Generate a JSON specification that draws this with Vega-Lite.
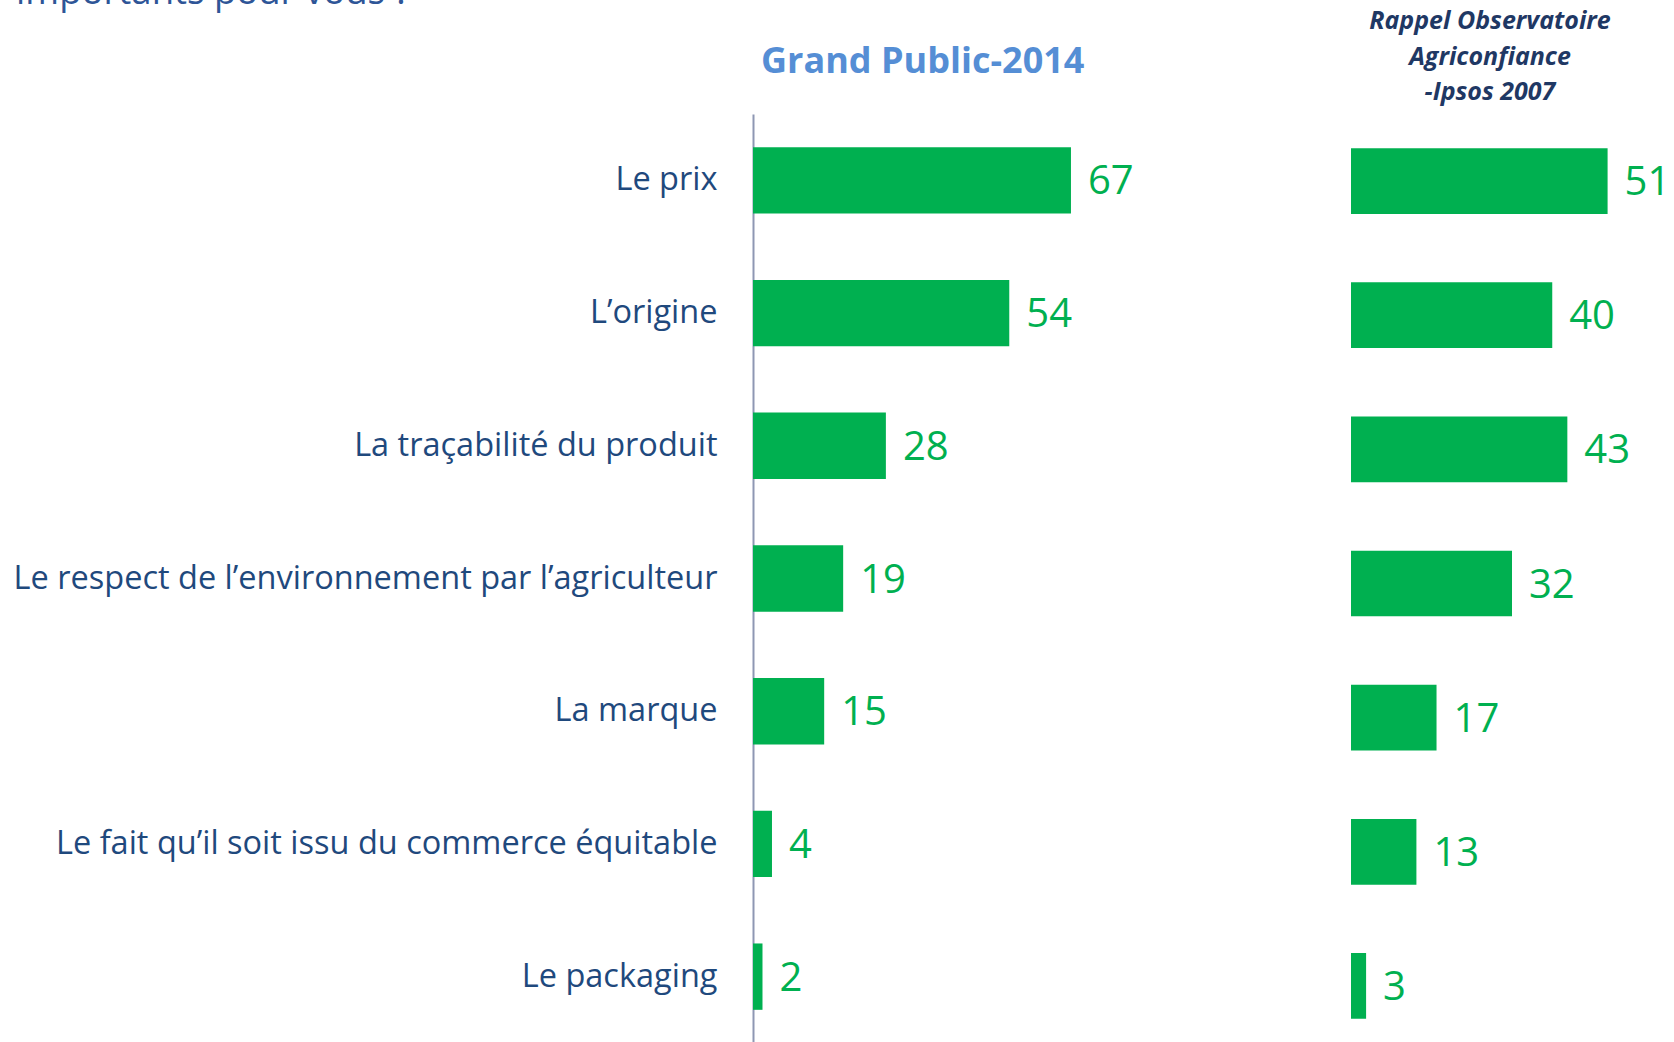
{
  "$schema": "https://vega.github.io/schema/vega-lite/v6.json",
  "background": "white",
  "padding": {"left": 13, "top": -26, "right": 0, "bottom": 0},
  "title": {"text": "importants pour vous ?", "anchor": "start", "frame": "bounds", "dx": 3, "fontSize": 36.5, "font": "Open Sans", "fontWeight": "normal", "color": "#2E5597", "baseline": "bottom", "offset": -39},
  "config": {"view": {"stroke": null}, "font": "Open Sans"},
  "data": {"values": [
    {"critere": "Le prix", "v2014": 67, "v2007": 51},
    {"critere": "L’origine", "v2014": 54, "v2007": 40},
    {"critere": "La traçabilité du produit", "v2014": 28, "v2007": 43},
    {"critere": "Le respect de l’environnement par l’agriculteur", "v2014": 19, "v2007": 32},
    {"critere": "La marque", "v2014": 15, "v2007": 17},
    {"critere": "Le fait qu’il soit issu du commerce équitable", "v2014": 4, "v2007": 13},
    {"critere": "Le packaging", "v2014": 2, "v2007": 3}
  ]},
  "spacing": 38,
  "hconcat": [
    {
      "width": 560,
      "height": 929,
      "title": {"text": "Grand Public-2014", "anchor": "start", "frame": "group", "dx": 8, "fontSize": 36, "font": "Open Sans", "fontWeight": "bold", "color": "#558ED5", "baseline": "alphabetic", "offset": 5},
      "encoding": {
        "y": {"field": "critere", "type": "nominal", "sort": null,
              "scale": {"paddingInner": 0.5, "paddingOuter": 0.25},
              "axis": {"title": null, "ticks": false, "domain": true, "domainColor": "#8E97B3", "domainWidth": 2, "labelPadding": 36, "labelFontSize": 32.5, "labelFont": "Open Sans", "labelColor": "#1F497D", "labelLimit": 1000}},
        "x": {"field": "v2014", "type": "quantitative", "scale": {"domain": [0, 118]}, "axis": null}
      },
      "layer": [
        {"mark": {"type": "bar", "color": "#00B050"}},
        {"mark": {"type": "text", "align": "left", "baseline": "middle", "dx": 17, "dy": 2, "fontSize": 40, "font": "Open Sans", "color": "#00B050"},
         "encoding": {"text": {"field": "v2014", "type": "quantitative"}}}
      ]
    },
    {
      "width": 322,
      "height": 939,
      "title": {"text": ["Rappel Observatoire", "Agriconfiance", "-Ipsos 2007"], "anchor": "start", "frame": "group", "align": "center", "dx": 139, "fontSize": 25, "font": "Open Sans", "fontStyle": "italic", "fontWeight": "bold", "color": "#1F3864", "lineHeight": 35.5, "baseline": "bottom", "offset": -16},
      "encoding": {
        "y": {"field": "critere", "type": "nominal", "sort": null,
              "scale": {"paddingInner": 0.51, "paddingOuter": 0.255},
              "axis": null},
        "x": {"field": "v2007", "type": "quantitative", "scale": {"domain": [0, 64]}, "axis": null}
      },
      "layer": [
        {"mark": {"type": "bar", "color": "#00B050"}},
        {"mark": {"type": "text", "align": "left", "baseline": "middle", "dx": 17, "dy": 2, "fontSize": 40, "font": "Open Sans", "color": "#00B050"},
         "encoding": {"text": {"field": "v2007", "type": "quantitative"}}}
      ]
    }
  ]
}
